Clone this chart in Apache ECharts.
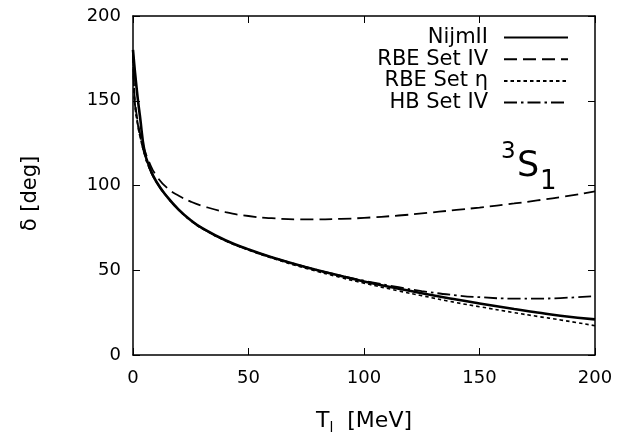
<!DOCTYPE html>
<html>
<head>
<meta charset="utf-8">
<script src="https://cdn.jsdelivr.net/npm/echarts@6/dist/echarts.min.js"></script>
<style>html,body{margin:0;padding:0;background:#fff}#c{width:620px;height:444px}</style>
</head>
<body>
<div id="c"></div>
<script>
// Data (T_lab in MeV, phase shift delta in degrees)
const seriesNames = ['NijmII', 'RBE Set IV', 'RBE Set \u03b7', 'HB Set IV'];
const energy = [0, 0.5, 1, 2, 3, 5, 7, 10, 15, 20, 25, 30, 40, 50, 60, 75, 90, 100, 115, 125, 140, 150, 165, 175, 185, 200];
const nijmII = [180, 172, 165, 152, 141, 120, 111.5, 102.5, 93, 85.5, 79.5, 74.8, 67.7, 62.3, 57.7, 51.8, 46.6, 43.4, 39.1, 36.4, 32.7, 30.4, 27.1, 25.1, 23.2, 21];
const rbeSetIV = [180, 157, 148, 138, 131, 121, 113.8, 106, 98.3, 93.8, 90.5, 88, 84.3, 82, 80.7, 80, 80.3, 80.9, 82.3, 83.5, 85.6, 87, 89.4, 91.2, 93.1, 96.5];
const rbeSetEta = [180, 154, 145, 136, 129, 118.5, 110.5, 102.3, 92.8, 85.3, 79.3, 74.5, 67.4, 61.9, 57.2, 51.1, 45.7, 42.4, 37.8, 35, 30.9, 28.5, 25, 22.8, 20.7, 17.3];
const hbSetIV = [180, 155, 146, 137, 129.5, 118.5, 110.5, 102.4, 92.9, 85.4, 79.4, 74.7, 67.6, 62.2, 57.7, 51.9, 46.8, 43.8, 40, 37.7, 35.2, 34.1, 33.3, 33.3, 33.6, 34.7];
const xTicks = [0, 50, 100, 150, 200];
const yTicks = [0, 50, 100, 150, 200];

const pairs = arr => energy.map((e, i) => [e, arr[i]]);
const font = '"DejaVu Sans", "Liberation Sans", Arial, sans-serif';
const styles = [
  {width: 2.6, type: 'solid'},
  {width: 1.8, type: [13, 6]},
  {width: 1.6, type: [3.5, 3]},
  {width: 1.8, type: [13, 4, 2.5, 4]}
];
const values = [nijmII, rbeSetIV, rbeSetEta, hbSetIV];

const chart = echarts.init(document.getElementById('c'), null, {renderer: 'canvas'});
const axisCommon = {
  min: 0, max: 200, interval: 50,
  splitLine: {show: false},
  axisLine: {show: true, onZero: false, lineStyle: {color: '#000', width: 1.5}},
  axisTick: {show: true, inside: true, length: 7, lineStyle: {color: '#000', width: 1}}
};
chart.setOption({
  animation: false,
  backgroundColor: '#fff',
  grid: {left: 133, right: 25, top: 16, bottom: 89, show: false},
  legend: {
    orient: 'vertical', align: 'right', right: 46, top: 22,
    itemWidth: 64, itemHeight: 14, itemGap: 0.7,
    data: seriesNames,
    itemStyle: {opacity: 0},
    textStyle: {fontFamily: font, fontSize: 21, lineHeight: 20, color: '#000', padding: [0, 11, 0, 0]}
  },
  xAxis: [
    Object.assign({}, axisCommon, {
      type: 'value', position: 'bottom',
      name: '{t|T}{s|l}{t|  [MeV]}', nameLocation: 'middle', nameGap: 52,
      nameTextStyle: {rich: {
        t: {fontFamily: font, fontSize: 22, color: '#000'},
        s: {fontFamily: font, fontSize: 14, color: '#000', verticalAlign: 'bottom', padding: [14, 0, 0, 0]}
      }},
      axisLabel: {fontFamily: font, fontSize: 18, color: '#000', margin: 14,
        formatter: v => xTicks.includes(v) ? String(v) : ''}
    }),
    Object.assign({}, axisCommon, {type: 'value', position: 'top', axisLabel: {show: false}})
  ],
  yAxis: [
    Object.assign({}, axisCommon, {
      type: 'value', position: 'left',
      name: '\u03b4 [deg]', nameLocation: 'middle', nameGap: 92, nameRotate: 90,
      nameTextStyle: {fontFamily: font, fontSize: 21, color: '#000', padding: [0, 16, 0, 0]},
      axisLabel: {fontFamily: font, fontSize: 18, color: '#000', margin: 12,
        formatter: v => yTicks.includes(v) ? String(v) : ''}
    }),
    Object.assign({}, axisCommon, {type: 'value', position: 'right', axisLabel: {show: false}})
  ],
  series: seriesNames.map((n, i) => ({
    name: n, type: 'line', xAxisIndex: 0, yAxisIndex: 0,
    data: pairs(values[i]), symbol: 'none', smooth: true,
    color: '#000',
    lineStyle: {color: '#000', width: styles[i].width, type: styles[i].type},
    z: 4 - i
  })),
  graphic: [
    {type: 'text', x: 501, y: 152.5, style: {text: '3', fontFamily: font, fontSize: 23, fill: '#000', verticalAlign: 'middle'}},
    {type: 'text', x: 517, y: 166.5, style: {text: 'S', fontFamily: font, fontSize: 35, fill: '#000', verticalAlign: 'middle'}},
    {type: 'text', x: 540, y: 182, style: {text: '1', fontFamily: font, fontSize: 26, fill: '#000', verticalAlign: 'middle'}}
  ]
});
</script>
</body>
</html>
